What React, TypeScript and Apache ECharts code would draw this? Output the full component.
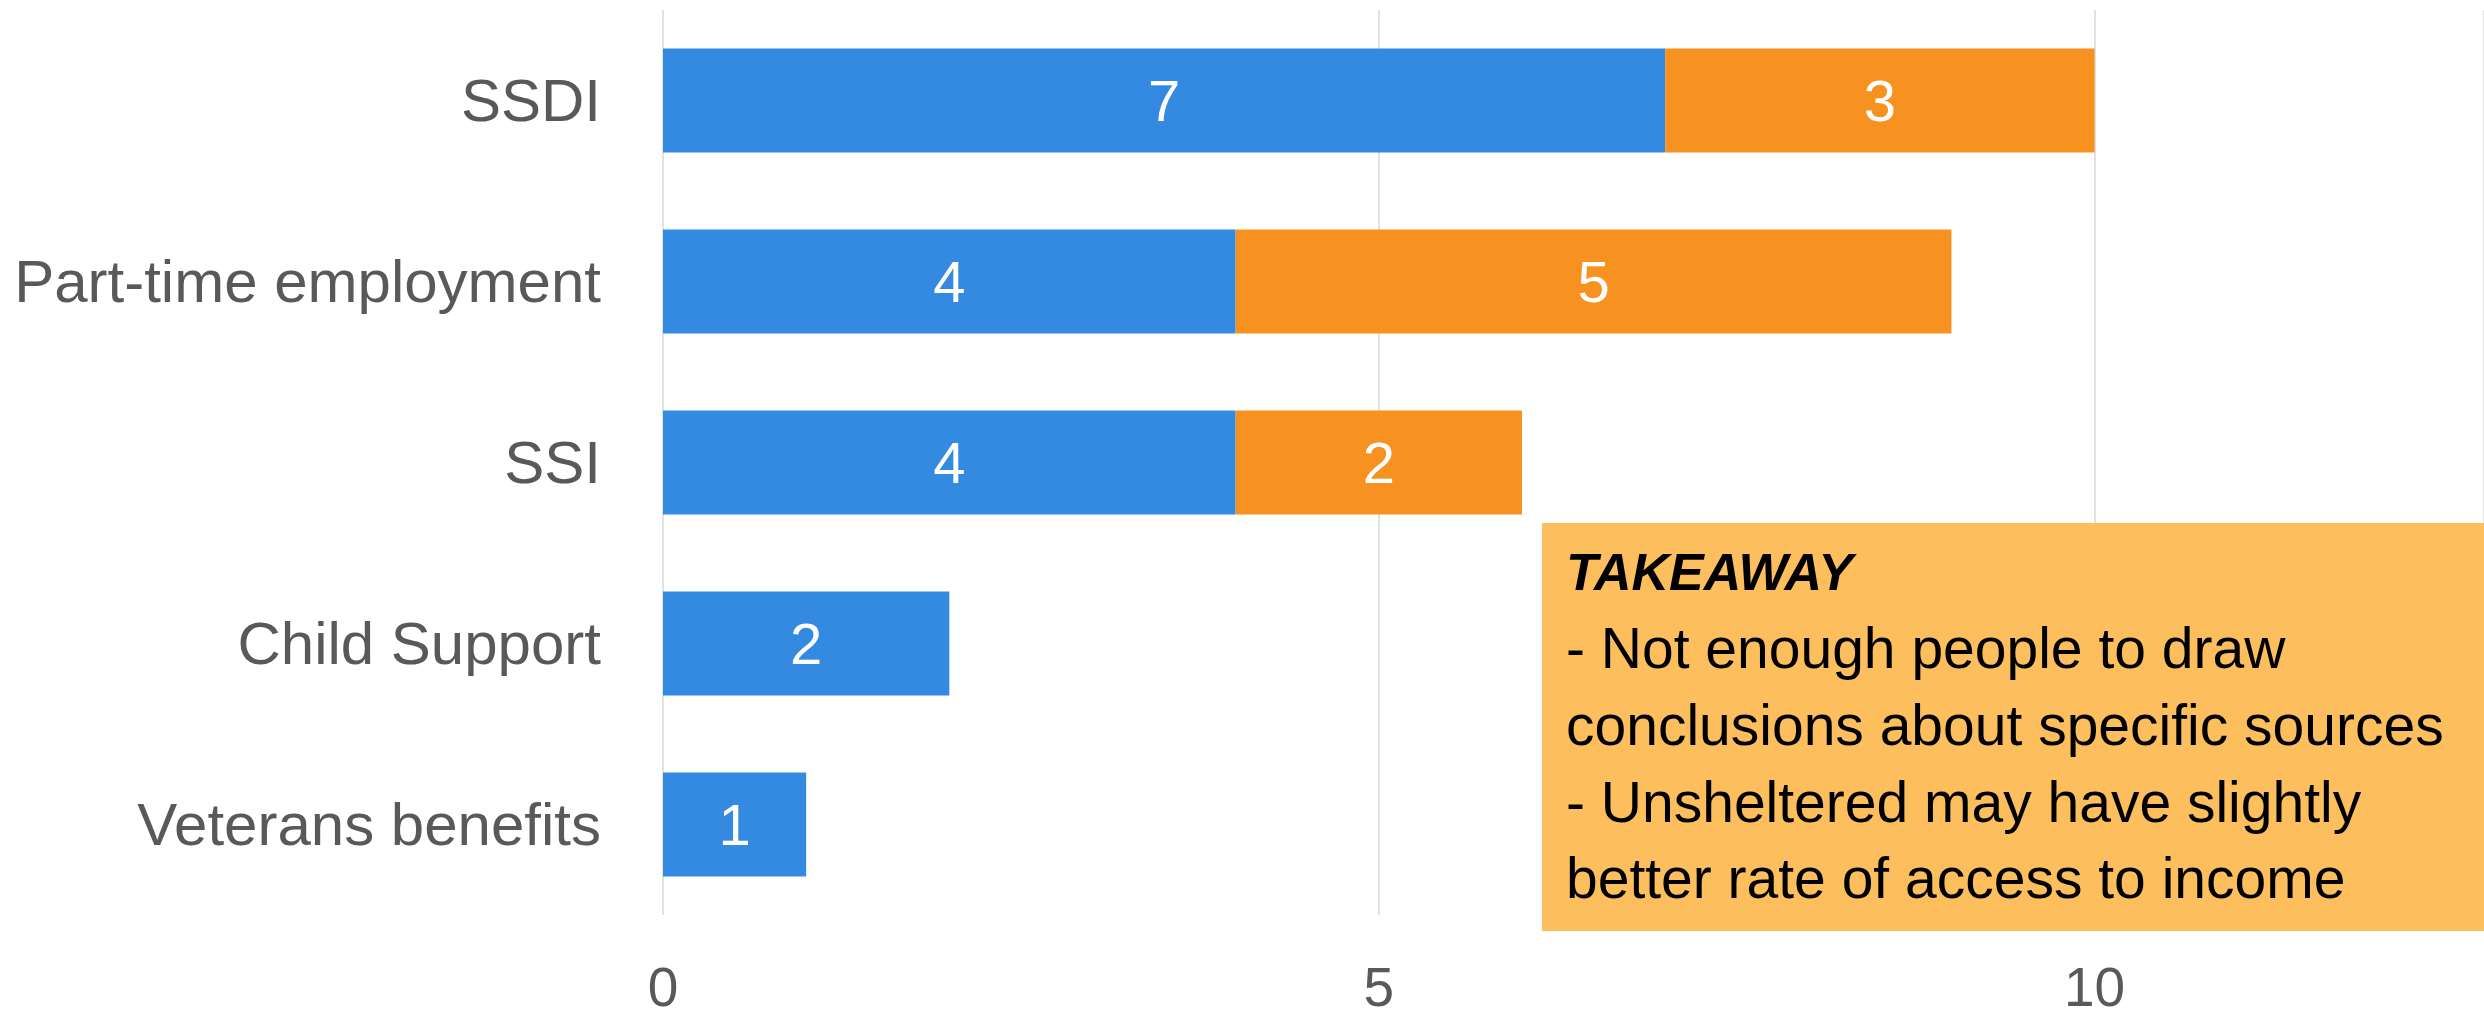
import React, { useEffect, useRef } from "react";
import * as echarts from "echarts";

const categories = ["SSDI", "Part-time employment", "SSI", "Child Support", "Veterans benefits"];
const blueValues = [7, 4, 4, 2, 1];
const orangeValues = [3, 5, 2, 0, 0];
const xTicks = [0, 5, 10];
const takeawayTitle = "TAKEAWAY";
const takeawayLines = [
  "- Not enough people to draw",
  "conclusions about specific sources",
  "- Unsheltered may have slightly",
  "better rate of access to income",
];

const FONT = '"Liberation Sans", Arial, sans-serif';
const BLUE = "#338ae0";
const ORANGE = "#f7911f";
const BOX = "#fdbf5e";
const GRID = "#d9d9d9";
const TEXT = "#595959";

export default function App() {
  const ref = useRef<HTMLDivElement>(null);
  useEffect(() => {
    if (!ref.current) return;
    const chart = echarts.init(ref.current, undefined, { renderer: "svg" });
    const lineYs = [648, 725, 802, 878];
    chart.setOption({
      animation: false,
      backgroundColor: "#ffffff",
      textStyle: { fontFamily: FONT },
      grid: { left: 663, right: 0, top: 10, bottom: 105, containLabel: false },
      xAxis: {
        type: "value",
        min: 0,
        max: 12.72,
        interval: 5,
        axisLine: { show: false },
        axisTick: { show: false },
        splitLine: { show: true, lineStyle: { color: GRID, width: 1.5 } },
        axisLabel: {
          show: true,
          showMaxLabel: false,
          margin: 52,
          lineHeight: 40,
          color: TEXT,
          fontSize: 55,
          fontFamily: FONT,
          formatter: (v: number) => (xTicks.includes(v) ? String(v) : ""),
        },
      },
      yAxis: {
        type: "category",
        data: categories,
        inverse: true,
        axisLine: { show: false },
        axisTick: { show: false },
        splitLine: { show: false },
        axisLabel: { margin: 62, color: TEXT, fontSize: 60, fontFamily: FONT },
      },
      series: [
        {
          type: "bar",
          stack: "total",
          data: blueValues,
          barWidth: 104,
          itemStyle: { color: BLUE },
          label: {
            show: true,
            position: "inside",
            color: "#ffffff",
            fontSize: 58,
            fontFamily: FONT,
            formatter: (p: any) => (p.value ? String(p.value) : ""),
          },
        },
        {
          type: "bar",
          stack: "total",
          data: orangeValues,
          barWidth: 104,
          itemStyle: { color: ORANGE },
          label: {
            show: true,
            position: "inside",
            color: "#ffffff",
            fontSize: 58,
            fontFamily: FONT,
            formatter: (p: any) => (p.value ? String(p.value) : ""),
          },
        },
      ],
      graphic: [
        {
          type: "rect",
          z: 100,
          shape: { x: 1542, y: 523, width: 942, height: 408 },
          style: { fill: BOX },
        },
        {
          type: "text",
          z: 101,
          x: 1566,
          y: 572,
          style: {
            text: takeawayTitle,
            font: `italic bold 52px ${FONT}`,
            fill: "#000000",
            textAlign: "left",
            verticalAlign: "middle",
            textVerticalAlign: "middle",
          },
        },
        ...takeawayLines.map((t, i) => ({
          type: "text",
          z: 101,
          x: 1566,
          y: lineYs[i],
          style: {
            text: t,
            font: `57px ${FONT}`,
            fill: "#000000",
            textAlign: "left",
            verticalAlign: "middle",
            textVerticalAlign: "middle",
          },
        })),
      ],
    });
    return () => chart.dispose();
  }, []);
  return (
    <div
      ref={ref}
      style={{ position: "absolute", left: 0, top: 0, width: 2484, height: 1020 }}
    />
  );
}
